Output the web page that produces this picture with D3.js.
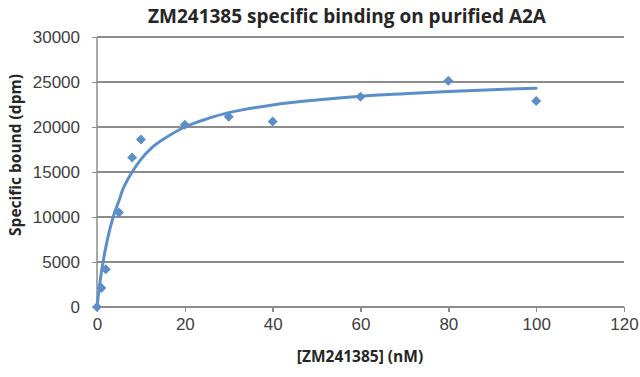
<!DOCTYPE html>
<html lang="en">
<head>
    <meta charset="UTF-8">
    <title>ZM241385 binding</title>
    <style>
        body{ margin:0; background:#fff; }
        svg{ display:block; font-family:"Open Sans","Noto Sans",sans-serif; }
        .axis path{ display:none; }
        .axis line{ stroke:#8c8c8c; stroke-width:1.5; shape-rendering:crispEdges; }
        .axis text{ fill:#404040; font-size:17px; }
        .grid line{ stroke:#8c8c8c; stroke-width:1.5; shape-rendering:crispEdges; }
        .title{ font-size:19px; font-weight:bold; fill:#262626; text-anchor:middle; }
        .axisTitle{ font-size:15.5px; font-weight:bold; fill:#262626; text-anchor:middle; }
    </style>
    <script src="https://cdn.jsdelivr.net/npm/d3@7"></script>
</head>
<body>
<script>
    // measured points: concentration (nM) and specific bound (dpm)
    var conc  = [0, 1, 2, 5, 8, 10, 20, 30, 40, 60, 80, 100];
    var bound = [0, 2100, 4200, 10500, 16600, 18600, 20250, 21150, 20600, 23350, 25150, 22900];

    // fitted curve
    var fitX = [0, 0.5, 1, 1.5, 2, 3, 4, 5, 6, 8, 10, 12.5, 15, 20, 25, 30, 40, 50, 60, 70, 80, 90, 100];
    var fitY = [0, 2080, 3850, 5330, 6620, 8780, 10500, 11800, 13200, 15000, 16400, 17700, 18600,
                20000, 20900, 21600, 22450, 23000, 23420, 23700, 23950, 24150, 24300];

    var xTicks = [0, 20, 40, 60, 80, 100, 120];
    var yTicks = [0, 5000, 10000, 15000, 20000, 25000, 30000];

    var width = 640, height = 377;
    var padding = {top:37, right:16, bottom:70, left:97};
    var blue = "#5b8fc9";

    var svg = d3.select("body").append("svg")
        .attr("width", width)
        .attr("height", height);

    var xScale = d3.scaleLinear()
        .domain([0, 120])
        .range([padding.left, width - padding.right]);
    var yScale = d3.scaleLinear()
        .domain([0, 30000])
        .range([height - padding.bottom, padding.top]);

    // horizontal gridlines
    svg.append("g")
        .attr("class", "grid")
        .selectAll("line")
        .data(yTicks)
        .enter()
        .append("line")
        .attr("x1", xScale(0))
        .attr("x2", xScale(120))
        .attr("y1", function(d){ return yScale(d); })
        .attr("y2", function(d){ return yScale(d); });

    // y axis
    var yAxis = d3.axisLeft(yScale).tickValues(yTicks).tickFormat(d3.format("d"))
        .tickSize(5).tickPadding(12);
    svg.append("g")
        .attr("class", "axis")
        .attr("transform", "translate(" + padding.left + ",0)")
        .call(yAxis);
    svg.append("line")
        .attr("x1", xScale(0)).attr("x2", xScale(0))
        .attr("y1", yScale(0)).attr("y2", yScale(30000))
        .attr("stroke", "#8c8c8c").attr("stroke-width", 1.5);

    // x axis
    var xAxis = d3.axisBottom(xScale).tickValues(xTicks).tickSize(5).tickPadding(6);
    svg.append("g")
        .attr("class", "axis")
        .attr("transform", "translate(0," + (height - padding.bottom) + ")")
        .call(xAxis);

    // fit line
    var line = d3.line()
        .x(function(d){ return xScale(d[0]); })
        .y(function(d){ return yScale(d[1]); })
        .curve(d3.curveCatmullRom.alpha(0.5));
    svg.append("path")
        .attr("d", line(d3.zip(fitX, fitY)))
        .attr("fill", "none")
        .attr("stroke", blue)
        .attr("stroke-width", 3)
        .attr("stroke-linecap", "round");

    // diamond markers
    var diamond = d3.symbol().type(d3.symbolSquare).size(50);
    svg.selectAll(".pt")
        .data(d3.zip(conc, bound))
        .enter()
        .append("path")
        .attr("class", "pt")
        .attr("d", diamond)
        .attr("fill", blue)
        .attr("transform", function(d){
            return "translate(" + xScale(d[0]) + "," + yScale(d[1]) + ") rotate(45)";
        });

    // titles
    svg.append("text")
        .attr("class", "title")
        .attr("x", 347)
        .attr("y", 23)
        .text("ZM241385 specific binding  on purified A2A");
    svg.append("text")
        .attr("class", "axisTitle")
        .attr("x", 360)
        .attr("y", 362)
        .text("[ZM241385] (nM)");
    svg.append("text")
        .attr("class", "axisTitle")
        .attr("transform", "translate(21,155) rotate(-90)")
        .text("Specific bound (dpm)");
</script>
</body>
</html>
